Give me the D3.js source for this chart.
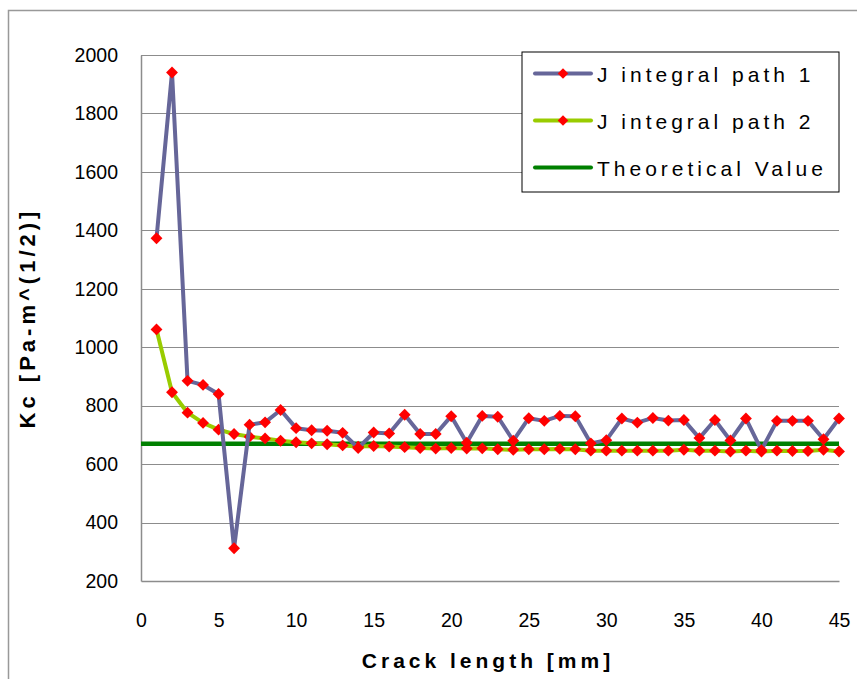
<!DOCTYPE html>
<html>
<head>
<meta charset="utf-8">
<script src="https://d3js.org/d3.v7.min.js"></script>
<style>
  body { margin: 0; background: #fff; }
  svg { display: block; font-family: "Liberation Sans", Arial, sans-serif; }
</style>
</head>
<body>
<svg id="chart" width="857" height="679"></svg>
<script>
// crack length [mm]
var crack = d3.range(1, 46);
// J integral path 1
var path1 = [1373, 1940, 885, 871, 840, 312, 735, 743, 785, 723,
             716, 714, 707, 655, 708, 705, 769, 703, 703, 764,
             673, 765, 762, 680, 757, 748, 765, 764, 671, 682,
             756, 742, 758, 749, 751, 689, 751, 681, 756, 648,
             748, 748, 748, 685, 756];
// J integral path 2
var path2 = [1061, 846, 776, 741, 718, 703, 694, 688, 680, 675,
             671, 668, 664, 660, 662, 660, 658, 655, 653, 655,
             653, 654, 651, 649, 651, 651, 652, 651, 646, 646,
             646, 646, 646, 646, 649, 646, 646, 643, 646, 643,
             646, 645, 645, 649, 643];
var theoretical = 670;
var xTicks = [0, 5, 10, 15, 20, 25, 30, 35, 40, 45];
var yTicks = [200, 400, 600, 800, 1000, 1200, 1400, 1600, 1800, 2000];
var legendNames = ["J integral path 1", "J integral path 2", "Theoretical Value"];

var svg = d3.select("#chart");
var margin = {left: 141, top: 55, right: 18, bottom: 98};
var W = 857, H = 679;

// outer chart border
svg.append("rect").attr("x", 8.5).attr("y", 10.5).attr("width", 900).attr("height", 700)
  .attr("fill", "none").attr("stroke", "#999").attr("stroke-width", 1.5);

var x = d3.scaleLinear().domain([0, 45]).range([margin.left, W - margin.right]);
var y = d3.scaleLinear().domain([200, 2000]).range([H - margin.bottom, margin.top]);

// gridlines
svg.append("g").selectAll("line").data(yTicks.slice(1)).join("line")
  .attr("x1", x(0)).attr("x2", x(45))
  .attr("y1", d => Math.round(y(d)) + 0.5).attr("y2", d => Math.round(y(d)) + 0.5)
  .attr("stroke", "#8c8c8c").attr("stroke-width", 1);

// axes
var yAxis = svg.append("g").attr("transform", "translate(" + x(0) + ",0)")
  .call(d3.axisLeft(y).tickValues(yTicks).tickFormat(d3.format("d")).tickSize(0).tickPadding(23));
var xAxis = svg.append("g").attr("transform", "translate(0," + y(200) + ")")
  .call(d3.axisBottom(x).tickValues(xTicks).tickFormat(d3.format("d")).tickSize(0).tickPadding(32));
[yAxis, xAxis].forEach(function(a) {
  a.select(".domain").attr("stroke", "#8c8c8c").attr("stroke-width", 1.5);
  a.selectAll("text").attr("font-size", 19.5).attr("fill", "#000")
    .attr("font-family", "'Liberation Sans', Arial, sans-serif");
});

// theoretical value
svg.append("line").attr("x1", x(0)).attr("x2", x(45))
  .attr("y1", y(theoretical)).attr("y2", y(theoretical))
  .attr("stroke", "#008000").attr("stroke-width", 4.5);

var line = d3.line().x((d, i) => x(crack[i])).y(d => y(d));

function series(vals, color) {
  svg.append("path").datum(vals).attr("d", line)
    .attr("fill", "none").attr("stroke", color).attr("stroke-width", 4)
    .attr("stroke-linejoin", "round");
  svg.append("g").selectAll("path").data(vals).join("path")
    .attr("d", d3.symbol().type(d3.symbolDiamond2).size(90))
    .attr("transform", (d, i) => "translate(" + x(crack[i]) + "," + y(d) + ")")
    .attr("fill", "#ff0000");
}
series(path2, "#99cc00");
series(path1, "#666699");

// axis titles
svg.append("text").attr("x", 488).attr("y", 668).attr("text-anchor", "middle")
  .attr("font-size", 21).attr("font-weight", "bold").attr("letter-spacing", 4)
  .text("Crack length [mm]");
svg.append("text").attr("transform", "translate(35,318) rotate(-90)")
  .attr("text-anchor", "middle").attr("font-size", 22).attr("font-weight", "bold")
  .attr("letter-spacing", 4).text("Kc [Pa-m^(1/2)]");

// legend
var lg = svg.append("g");
lg.append("rect").attr("x", 522).attr("y", 52).attr("width", 317).attr("height", 140)
  .attr("fill", "#fff").attr("stroke", "#000").attr("stroke-width", 1);
var lgColors = ["#666699", "#99cc00", "#008000"];
legendNames.forEach(function(name, i) {
  var ly = 73.5 + i * 47;
  lg.append("line").attr("x1", 535).attr("x2", 591).attr("y1", ly).attr("y2", ly)
    .attr("stroke", lgColors[i]).attr("stroke-width", 4).attr("stroke-linecap", "round");
  if (i < 2) {
    lg.append("path").attr("d", d3.symbol().type(d3.symbolDiamond2).size(70))
      .attr("transform", "translate(563," + ly + ")").attr("fill", "#ff0000");
  }
  lg.append("text").attr("x", 597).attr("y", ly + 8).attr("font-size", 21)
    .attr("letter-spacing", 4).text(name);
});
</script>
</body>
</html>
